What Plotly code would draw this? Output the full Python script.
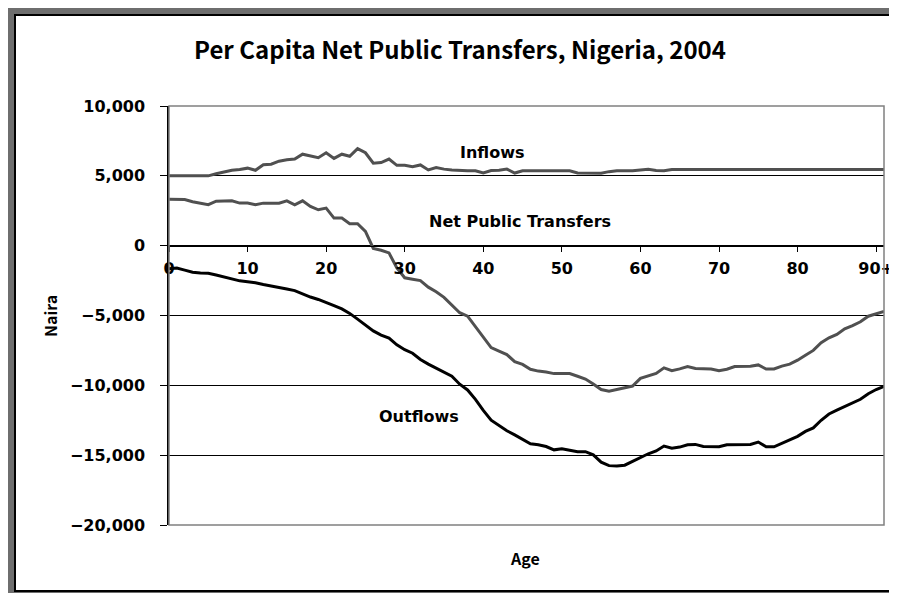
import plotly.graph_objects as go

# ages 0..91 (last tick labelled "90+")
ages = list(range(92))

inflows = [
    5000, 5000, 5000, 5000, 5000, 5000, 5150, 5300, 5400, 5450,
    5550, 5400, 5800, 5830, 6050, 6150, 6200, 6550, 6450, 6300,
    6650, 6250, 6550, 6400, 6950, 6650, 5900, 5950, 6200, 5750,
    5750, 5650, 5780, 5420, 5600, 5480, 5420, 5380, 5360, 5360,
    5200, 5380, 5400, 5480, 5200, 5360, 5360, 5360, 5360, 5360,
    5360, 5360, 5200, 5190, 5190, 5190, 5300, 5360, 5360, 5360,
    5420, 5470, 5380, 5360, 5450, 5450, 5450, 5450, 5450, 5450,
    5450, 5450, 5450, 5450, 5450, 5450, 5450, 5450, 5450, 5450,
    5450, 5450, 5450, 5450, 5450, 5450, 5450, 5450, 5450, 5450,
    5450, 5450,
]

net_transfers = [
    3330, 3330, 3300, 3150, 3030, 2930, 3180, 3210, 3210, 3050,
    3050, 2940, 3045, 3045, 3045, 3210, 2930, 3210, 2810, 2570,
    2690, 1975, 1975, 1570, 1570, 1020, -200, -330, -520, -1600,
    -2300, -2400, -2500, -2970, -3300, -3700, -4250, -4800, -5050, -5800,
    -6600, -7300, -7550, -7800, -8300, -8500, -8850, -8980, -9050, -9160,
    -9160, -9160, -9350, -9550, -9900, -10300, -10420, -10300, -10200, -10050,
    -9500, -9300, -9150, -8750, -8950, -8820, -8650, -8800, -8830, -8830,
    -8950, -8850, -8650, -8640, -8640, -8540, -8830, -8830, -8620, -8480,
    -8200, -7850, -7500, -6950, -6600, -6350, -5950, -5720, -5450, -5050,
    -4850, -4700,
]

outflows = [
    -1650, -1600, -1750, -1900, -1950, -1970, -2100, -2250, -2400, -2520,
    -2580, -2650, -2780, -2870, -2970, -3100, -3220, -3450, -3680, -3850,
    -4050, -4300, -4530, -4850, -5260, -5700, -6100, -6400, -6620, -7100,
    -7450, -7700, -8150, -8480, -8780, -9080, -9350, -9920, -10330, -11000,
    -11800, -12500, -12900, -13250, -13550, -13850, -14180, -14250, -14380, -14620,
    -14550, -14650, -14750, -14750, -14980, -15500, -15750, -15780, -15720, -15450,
    -15150, -14900, -14700, -14350, -14500, -14420, -14250, -14230, -14380, -14400,
    -14400, -14250, -14230, -14230, -14230, -14060, -14400, -14400, -14150, -13920,
    -13650, -13300, -13050, -12500, -12050, -11780, -11520, -11280, -11000, -10600,
    -10300, -10080,
]

x_tickvals = [0, 10, 20, 30, 40, 50, 60, 70, 80, 90]
x_ticktext = ["0", "10", "20", "30", "40", "50", "60", "70", "80", "90+"]

# the page body adds an 8px margin at the top and left
OFF = 8
W, H = 897 - OFF, 593 - OFF
ML, MR, MT, MB = 161, 13, 98, 68
PW, PH = W - ML - MR, H - MT - MB


def px(x):
    # page pixel -> paper x
    return (x - OFF - ML) / PW


def py(y):
    # page pixel -> paper y
    return (H - MB - (y - OFF)) / PH


BOLD = "DejaVu Sans"
GOTHIC = "Noto Sans CJK JP"
GRAY = "#505050"

fig = go.Figure()
fig.add_trace(go.Scatter(x=ages, y=inflows, mode="lines", name="Inflows",
                         line=dict(color=GRAY, width=3)))
fig.add_trace(go.Scatter(x=ages, y=net_transfers, mode="lines", name="Net Public Transfers",
                         line=dict(color=GRAY, width=3)))
fig.add_trace(go.Scatter(x=ages, y=outflows, mode="lines", name="Outflows",
                         line=dict(color="black", width=3)))

# outer frame: gray band, then white panel with black border
fig.add_shape(type="rect", xref="paper", yref="paper", layer="below",
              x0=px(6), x1=px(920), y0=py(620), y1=py(-20),
              fillcolor="#6e6e6e", line=dict(width=0))
fig.add_shape(type="rect", xref="paper", yref="paper", layer="below",
              x0=px(15), x1=px(930), y0=py(591), y1=py(15),
              fillcolor="white", line=dict(color="black", width=2))
# plot area border
fig.add_shape(type="rect", xref="paper", yref="paper",
              x0=0, x1=1, y0=0, y1=1, line=dict(color="#808080", width=1.5))

lbl = dict(family=BOLD, size=16, color="black", weight="bold")
fig.add_annotation(x=41.2, y=6640, text="Inflows", showarrow=False, font=lbl)
fig.add_annotation(x=44.7, y=1715, text="Net Public Transfers", showarrow=False, font=lbl)
fig.add_annotation(x=31.8, y=-12210, text="Outflows", showarrow=False, font=lbl)

paper_txt = dict(xref="paper", yref="paper", xanchor="center", yanchor="middle",
                 showarrow=False)
fig.add_annotation(x=px(460), y=py(48),
                   text="Per Capita Net Public Transfers, Nigeria, 2004",
                   font=dict(family=GOTHIC, size=24, color="black", weight="bold"),
                   **paper_txt)
fig.add_annotation(x=px(50), y=py(316), text="Naira", textangle=-90,
                   font=dict(family=GOTHIC, size=16, color="black", weight="bold"),
                   **paper_txt)
fig.add_annotation(x=px(525), y=py(558), text="Age",
                   font=dict(family=GOTHIC, size=16, color="black", weight="bold"),
                   **paper_txt)

fig.update_layout(
    width=W, height=H, autosize=False,
    margin=dict(l=ML, r=MR, t=MT, b=MB),
    paper_bgcolor="white",
    plot_bgcolor="rgba(0,0,0,0)",
    showlegend=False,
    xaxis=dict(
        range=[0, 91], tickvals=x_tickvals, ticktext=x_ticktext,
        anchor="free", position=2 / 3, automargin=False,
        showline=True, linecolor="black", linewidth=1,
        ticks="outside", ticklen=5, tickcolor="black",
        showgrid=False, zeroline=False,
        tickfont=lbl, ticklabelstandoff=3, ticklabeloverflow="allow",
    ),
    yaxis=dict(
        range=[-20000, 10000], dtick=5000, tickformat=",", automargin=False,
        showline=True, linecolor="black", linewidth=1.5,
        ticks="outside", ticklen=7, tickcolor="black",
        showgrid=True, gridcolor="black", gridwidth=1,
        zeroline=False,
        tickfont=lbl, ticklabelstandoff=12,
    ),
)

fig.write_html("out.html")
